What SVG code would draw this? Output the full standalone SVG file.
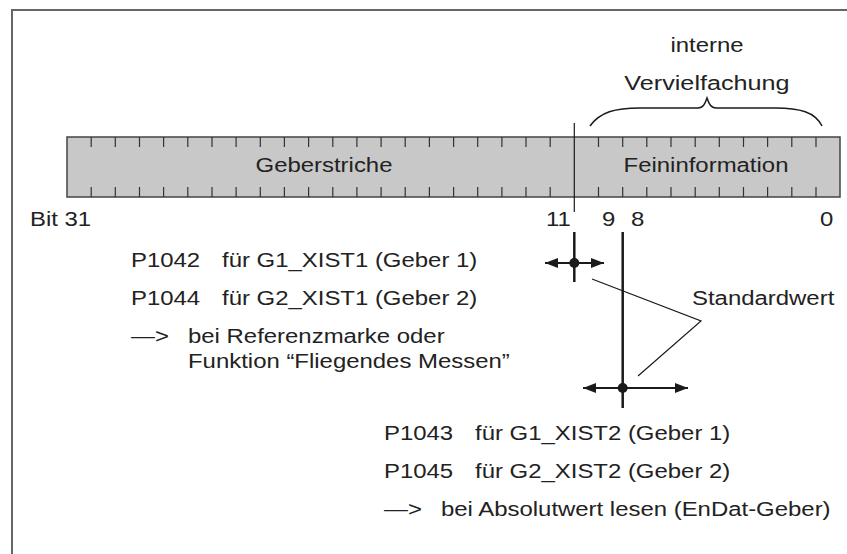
<svg xmlns="http://www.w3.org/2000/svg" width="847" height="554" viewBox="0 0 847 554">
<defs>
<marker id="ah" viewBox="0 0 13 10" refX="13" refY="5" markerWidth="13" markerHeight="10" markerUnits="userSpaceOnUse" orient="auto-start-reverse"><path d="M0,0 L13,5 L0,10 Z" fill="#1a1a1a"/></marker>
</defs>
<style>
text{font-family:"Liberation Sans",Arial,sans-serif;font-size:21px;fill:#222}
.tick{stroke:#333;stroke-width:1.2}
.ln{stroke:#1a1a1a;fill:none}
</style>
<rect width="847" height="554" fill="#fff"/>
<path d="M12,554 V10 H847" fill="none" stroke="#666" stroke-width="2"/>
<g id="bar">
<rect x="67" y="137" width="773" height="60" fill="#c8c8c8" stroke="#444" stroke-width="1.5"/>
<g class="tick">
<path d="M91.2,137v10M115.3,137v10M139.5,137v10M163.6,137v10M187.8,137v10M212,137v10M236.1,137v10M260.3,137v10M284.4,137v10M308.6,137v10M332.8,137v10M356.9,137v10M381.1,137v10M405.2,137v10M429.4,137v10M453.6,137v10M477.7,137v10M501.9,137v10M526,137v10M550.2,137v10M598.5,137v10M622.7,137v10M646.8,137v10M671,137v10M695.2,137v10M719.3,137v10M743.5,137v10M767.6,137v10M791.8,137v10M816,137v10"/>
<path d="M91.2,187v10M115.3,187v10M139.5,187v10M163.6,187v10M187.8,187v10M212,187v10M236.1,187v10M260.3,187v10M284.4,187v10M308.6,187v10M332.8,187v10M356.9,187v10M381.1,187v10M405.2,187v10M429.4,187v10M453.6,187v10M477.7,187v10M501.9,187v10M526,187v10M550.2,187v10M598.5,187v10M622.7,187v10M646.8,187v10M671,187v10M695.2,187v10M719.3,187v10M743.5,187v10M767.6,187v10M791.8,187v10M816,187v10"/>
</g>
<text transform="translate(324,172) scale(1.14,1)" text-anchor="middle">Geberstriche</text>
<text transform="translate(706,172) scale(1.14,1)" text-anchor="middle">Feininformation</text>
</g>
<g id="brace">
<path class="ln" stroke-width="1.5" d="M590,126 C600,112 615,108 640,108 H698 C703,108 705,104 707,98 C709,104 711,108 716,108 H775 C800,108 815,112 822,126"/>
<text transform="translate(707,52) scale(1.14,1)" text-anchor="middle">interne</text>
<text transform="translate(707,90) scale(1.2,1)" text-anchor="middle">Vervielfachung</text>
</g>
<g id="bitlabels">
<text transform="translate(30,226) scale(1.14,1)">Bit 31</text>
<text transform="translate(546,226) scale(1.14,1)">11</text>
<text transform="translate(602,226) scale(1.14,1)">9</text>
<text transform="translate(631,226) scale(1.14,1)">8</text>
<text transform="translate(820,226) scale(1.14,1)">0</text>
</g>
<g id="connectors">
<line class="ln" x1="574.3" y1="123" x2="574.3" y2="212" stroke-width="1.2"/>
<line class="ln" x1="574.3" y1="232" x2="574.3" y2="282" stroke-width="2.5"/>
<line class="ln" x1="545" y1="263" x2="604" y2="263" stroke-width="2" marker-start="url(#ah)" marker-end="url(#ah)"/>
<circle cx="574.3" cy="263" r="5" fill="#1a1a1a"/>
<line class="ln" x1="622.7" y1="232" x2="622.7" y2="408" stroke-width="2.5"/>
<line class="ln" x1="583" y1="388" x2="688" y2="388" stroke-width="2" marker-start="url(#ah)" marker-end="url(#ah)"/>
<circle cx="622.7" cy="388" r="5" fill="#1a1a1a"/>
<polyline class="ln" stroke-width="1.2" points="592,279 701,321 638,376"/>
</g>
<g id="std"><text transform="translate(692,305) scale(1.14,1)">Standardwert</text></g>
<g id="upper">
<text transform="translate(131,267) scale(1.14,1)">P1042</text><text transform="translate(222,267) scale(1.14,1)">für G1_XIST1 (Geber 1)</text>
<text transform="translate(131,305) scale(1.14,1)">P1044</text><text transform="translate(222,305) scale(1.14,1)">für G2_XIST1 (Geber 2)</text>
<text transform="translate(131,343) scale(1.14,1)">—&gt;</text><text transform="translate(188,343) scale(1.14,1)">bei Referenzmarke oder</text>
<text transform="translate(188,368) scale(1.14,1)">Funktion “Fliegendes Messen”</text>
</g>
<g id="lower">
<text transform="translate(384,440) scale(1.14,1)">P1043</text><text transform="translate(475,440) scale(1.14,1)">für G1_XIST2 (Geber 1)</text>
<text transform="translate(384,478) scale(1.14,1)">P1045</text><text transform="translate(475,478) scale(1.14,1)">für G2_XIST2 (Geber 2)</text>
<text transform="translate(384,516) scale(1.14,1)">—&gt;</text><text transform="translate(441,516) scale(1.14,1)">bei Absolutwert lesen (EnDat-Geber)</text>
</g>
</svg>
